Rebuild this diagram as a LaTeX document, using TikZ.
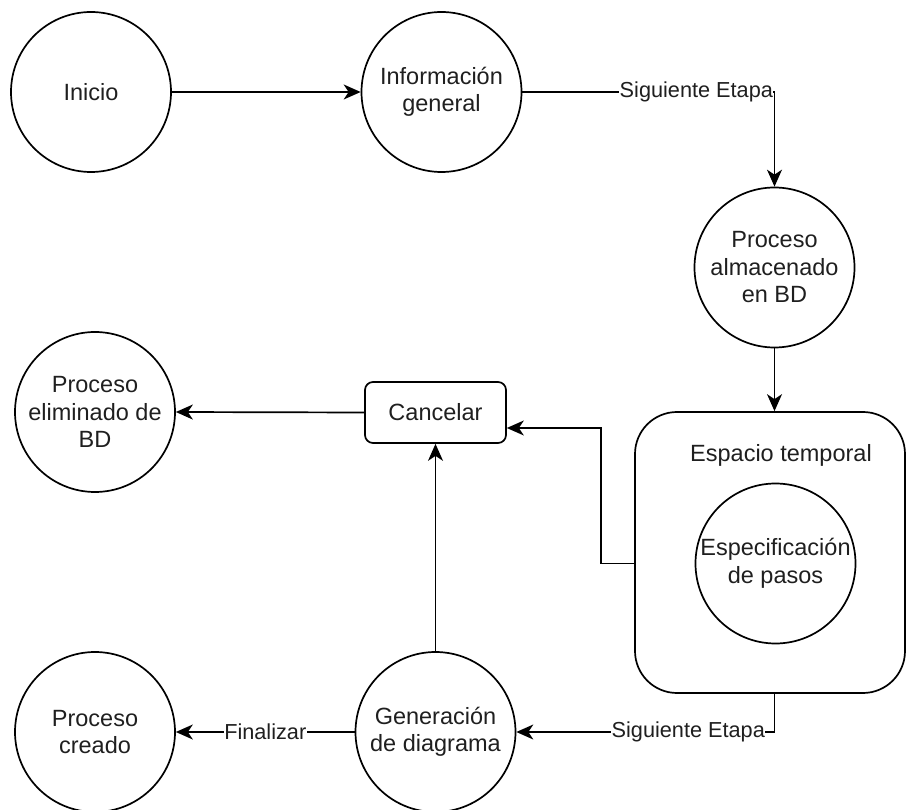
\documentclass[tikz,border=0pt]{standalone}
\usepackage{fontspec}
\setmainfont{Liberation Sans}
\usetikzlibrary{arrows.meta}

\begin{document}
\begin{tikzpicture}[x=1pt,y=-1pt,
  every node/.style={font=\fontsize{23.5}{27.5}\selectfont, text=black!88, align=center},
  state/.style={draw, circle, line width=1.7pt, minimum size=160pt, inner sep=0pt},
  actionbox/.style={draw, rounded corners=8pt, line width=1.7pt, minimum width=141pt, minimum height=61pt, inner sep=0pt},
  container/.style={draw, rounded corners=42pt, line width=1.7pt, minimum width=270pt, minimum height=281pt, inner sep=0pt},
  flow/.style={line width=1.7pt, -{Stealth[length=17pt,width=15pt,inset=5pt]}},
  lbl/.style={fill=white, inner sep=0.5pt, font=\fontsize{21.7}{25}\selectfont}
]
\useasboundingbox (0,0) rectangle (906,810);

% states
\node[state] (ini)    at (91,92)      {Inicio};
\node[state] (info)   at (441.5,92)   {Información\\general};
\node[state] (alm)    at (774.5,267.5){Proceso\\almacenado\\en BD};
\node[container] (esp) at (770,552.5) {};
\node (esptitle) at (781,455) {Espacio temporal};
\node[state] (espec)  at (775.5,563.5){Especificación\\de pasos};
\node[actionbox] (cancel) at (435.5,412.5) {Cancelar};
\node[state] (elim)   at (95,412)     {Proceso\\eliminado de\\BD};
\node[state] (gen)    at (435.5,732)  {Generación\\de diagrama};
\node[state] (creado) at (95,732)     {Proceso\\creado};

% connectors
\draw[flow] (ini) -- (info);
\draw[flow] (info.east) -| node[lbl, pos=0.345] {Siguiente Etapa} (alm.north);
\draw[flow] (alm.south) -- (alm |- esp.north);
\draw[flow] (esp.west |- espec) -- ++(-33,0) |- ([yshift=-15.5pt]cancel.east);
\draw[flow] (alm |- esp.south) |- node[lbl, pos=0.667] {Siguiente Etapa} (gen.east);
\draw[flow] (gen.north) -- (cancel.south);
\draw[flow] (cancel.west) -- (elim.east);
\draw[flow] (gen.west) -- node[lbl] {Finalizar} (creado.east);
\end{tikzpicture}
\end{document}
